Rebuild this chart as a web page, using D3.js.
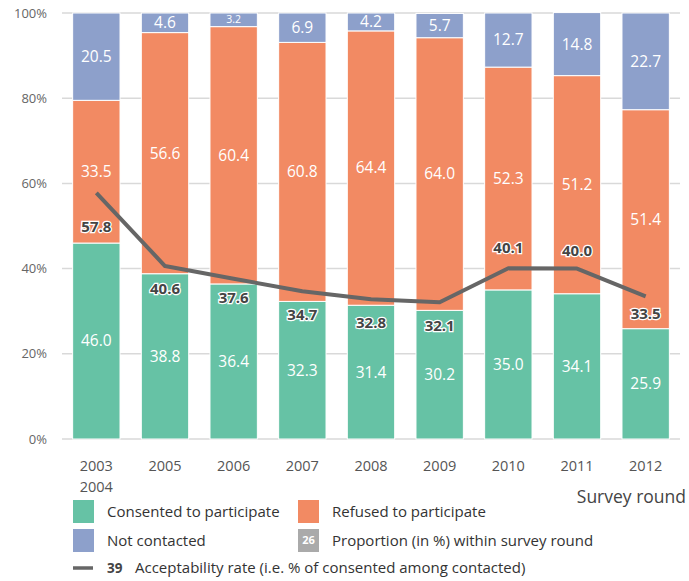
<!DOCTYPE html>
<html>
<head>
<meta charset="utf-8">
<script src="https://cdn.jsdelivr.net/npm/d3@7"></script>
<style>
  body { margin: 0; background: #fff; }
  svg { font-family: "Open Sans", "Noto Sans", sans-serif; }
</style>
</head>
<body>
<svg width="689" height="581"></svg>
<script>
// Survey rounds and their shares (%)
const rounds = ["2003\n2004", "2005", "2006", "2007", "2008", "2009", "2010", "2011", "2012"];
const consented = [46.0, 38.8, 36.4, 32.3, 31.4, 30.2, 35.0, 34.1, 25.9];
const refused = [33.5, 56.6, 60.4, 60.8, 64.4, 64.0, 52.3, 51.2, 51.4];
const notContacted = [20.5, 4.6, 3.2, 6.9, 4.2, 5.7, 12.7, 14.8, 22.7];
const acceptability = [57.8, 40.6, 37.6, 34.7, 32.8, 32.1, 40.1, 40.0, 33.5];
const yTicks = [0, 20, 40, 60, 80, 100];

const seriesNames = ["Consented to participate", "Refused to participate", "Not contacted"];
const colors = ["#66c2a5", "#f28a63", "#8da0cb"];

const svg = d3.select("svg");
const plotLeft = 62, plotRight = 680, plotTop = 13, plotBottom = 439;

// label offset (px) of the acceptability value relative to its point
const labelDy = [34, 23, 19, 24, 23, 23, -20, -18, 17];

const x = d3.scaleBand()
    .domain(rounds)
    .range([plotLeft, plotRight])
    .paddingInner(0.31)
    .paddingOuter(0.155);

const y = d3.scaleLinear().domain([0, 100]).range([plotBottom, plotTop]);

// gridlines
svg.append("g")
  .selectAll("line")
  .data(yTicks)
  .join("line")
    .attr("x1", plotLeft).attr("x2", plotRight)
    .attr("y1", d => y(d)).attr("y2", d => y(d))
    .attr("stroke", "#d9d9d9")
    .attr("stroke-width", 1.5);

// y tick labels
svg.append("g")
  .selectAll("text")
  .data(yTicks)
  .join("text")
    .attr("x", 47)
    .attr("y", d => y(d))
    .attr("dy", "0.35em")
    .attr("text-anchor", "end")
    .attr("font-size", 13)
    .attr("fill", "#666")
    .text(d => d + "%");

// stack the data
const table = rounds.map((r, i) => ({
  round: r, c: consented[i], r2: refused[i], n: notContacted[i]
}));
const stack = d3.stack().keys(["c", "r2", "n"]);
const layers = stack(table);

const layerG = svg.append("g")
  .selectAll("g")
  .data(layers)
  .join("g")
    .attr("fill", (d, i) => colors[i]);

layerG.selectAll("rect")
  .data(d => d)
  .join("rect")
    .attr("x", d => x(d.data.round))
    .attr("width", x.bandwidth())
    .attr("y", d => y(d[1]))
    .attr("height", d => y(d[0]) - y(d[1]))
    .attr("stroke", "#fff")
    .attr("stroke-width", 1);

// segment value labels
layerG.selectAll("text")
  .data(d => d)
  .join("text")
    .attr("x", d => x(d.data.round) + x.bandwidth() / 2)
    .attr("y", d => (y(d[0]) + y(d[1])) / 2)
    .attr("dy", "0.35em")
    .attr("text-anchor", "middle")
    .attr("fill", "#fff")
    .attr("font-size", d => (d[1] - d[0]) < 4 ? 10.5 : 15.5)
    .text(d => (d[1] - d[0]).toFixed(1));

// acceptability line
const line = d3.line()
    .x((d, i) => x(rounds[i]) + x.bandwidth() / 2)
    .y(d => y(d));

svg.append("path")
    .datum(acceptability)
    .attr("d", line)
    .attr("fill", "none")
    .attr("stroke", "#666")
    .attr("stroke-width", 4)
    .attr("stroke-linejoin", "round");

svg.append("g")
  .selectAll("text")
  .data(acceptability)
  .join("text")
    .attr("x", (d, i) => x(rounds[i]) + x.bandwidth() / 2)
    .attr("y", (d, i) => y(d) + labelDy[i])
    .attr("dy", "0.35em")
    .attr("text-anchor", "middle")
    .attr("font-size", 15)
    .attr("font-weight", "bold")
    .attr("fill", "#444")
    .attr("stroke", "#fff")
    .attr("stroke-width", 2.5)
    .attr("paint-order", "stroke")
    .text(d => d.toFixed(1));

// x labels
const xl = svg.append("g")
  .selectAll("text")
  .data(rounds)
  .join("text")
    .attr("x", d => x(d) + x.bandwidth() / 2)
    .attr("y", 471)
    .attr("text-anchor", "middle")
    .attr("font-size", 14.5)
    .attr("fill", "#555");
xl.selectAll("tspan")
  .data(d => d.split("\n"))
  .join("tspan")
    .attr("x", function() { return d3.select(this.parentNode).attr("x"); })
    .attr("dy", (d, i) => i === 0 ? 0 : 21)
    .text(d => d);

svg.append("text")
    .attr("x", 686).attr("y", 503)
    .attr("text-anchor", "end")
    .attr("font-size", 17.5)
    .attr("fill", "#444")
    .text("Survey round");

// legend
const legendItems = [
  { label: seriesNames[0], color: colors[0], x: 73, y: 500 },
  { label: seriesNames[1], color: colors[1], x: 298, y: 500 },
  { label: seriesNames[2], color: colors[2], x: 73, y: 529 },
  { label: "Proportion (in %) within survey round", color: "#aaa", x: 298, y: 529, box: "26" }
];
const lg = svg.append("g")
  .selectAll("g")
  .data(legendItems)
  .join("g")
    .attr("transform", d => `translate(${d.x},${d.y})`);
lg.append("rect")
    .attr("width", 21).attr("height", 23)
    .attr("fill", d => d.color);
lg.filter(d => d.box).append("text")
    .attr("x", 10.5).attr("y", 11.5).attr("dy", "0.35em")
    .attr("text-anchor", "middle")
    .attr("font-size", 11).attr("font-weight", "bold")
    .attr("fill", "#fff")
    .text(d => d.box);
lg.append("text")
    .attr("x", 34).attr("y", 11.5).attr("dy", "0.35em")
    .attr("font-size", 15)
    .attr("fill", "#333")
    .text(d => d.label);

const ll = svg.append("g").attr("transform", "translate(73,568)");
ll.append("line").attr("x1", 0).attr("x2", 20)
    .attr("stroke", "#666").attr("stroke-width", 3.5);
ll.append("text").attr("x", 34).attr("dy", "0.35em")
    .attr("font-size", 13.5).attr("font-weight", "bold").attr("fill", "#444")
    .text("39");
ll.append("text").attr("x", 62).attr("dy", "0.35em")
    .attr("font-size", 15)
    .attr("fill", "#333")
    .text("Acceptability rate (i.e. % of consented among contacted)");
</script>
</body>
</html>
